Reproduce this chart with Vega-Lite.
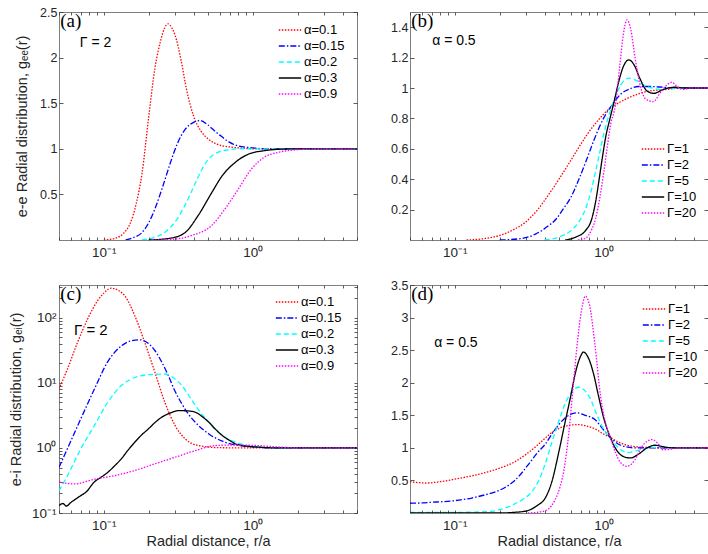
{
  "$schema": "https://vega.github.io/schema/vega-lite/v6.json",
  "background": "white",
  "padding": {"left": 7, "top": 5, "right": 0, "bottom": 0},
  "columns": 2,
  "spacing": {"column": 53, "row": 45},
  "bounds": "flush",
  "datasets": {
    "pa": [
      {"s":"α=0.1","x":0.1,"y":0},{"s":"α=0.1","x":0.12,"y":0.02},{"s":"α=0.1","x":0.135,"y":0.07},{"s":"α=0.1","x":0.15,"y":0.18},{"s":"α=0.1","x":0.165,"y":0.4},{"s":"α=0.1","x":0.18,"y":0.72},{"s":"α=0.1","x":0.2,"y":1.35},{"s":"α=0.1","x":0.22,"y":1.88},{"s":"α=0.1","x":0.24,"y":2.18},{"s":"α=0.1","x":0.255,"y":2.32},{"s":"α=0.1","x":0.27,"y":2.37},{"s":"α=0.1","x":0.285,"y":2.33},{"s":"α=0.1","x":0.3,"y":2.25},{"s":"α=0.1","x":0.33,"y":1.97},{"s":"α=0.1","x":0.36,"y":1.64},{"s":"α=0.1","x":0.4,"y":1.36},{"s":"α=0.1","x":0.45,"y":1.19},{"s":"α=0.1","x":0.5,"y":1.11},{"s":"α=0.1","x":0.6,"y":1.04},{"s":"α=0.1","x":0.7,"y":1.02},{"s":"α=0.1","x":0.8,"y":1.01},{"s":"α=0.1","x":1,"y":1},{"s":"α=0.1","x":2,"y":1},{"s":"α=0.1","x":5,"y":1},
      {"s":"α=0.15","x":0.14,"y":0},{"s":"α=0.15","x":0.16,"y":0.03},{"s":"α=0.15","x":0.18,"y":0.08},{"s":"α=0.15","x":0.2,"y":0.19},{"s":"α=0.15","x":0.22,"y":0.34},{"s":"α=0.15","x":0.25,"y":0.6},{"s":"α=0.15","x":0.28,"y":0.85},{"s":"α=0.15","x":0.31,"y":1.05},{"s":"α=0.15","x":0.35,"y":1.21},{"s":"α=0.15","x":0.4,"y":1.29},{"s":"α=0.15","x":0.44,"y":1.31},{"s":"α=0.15","x":0.5,"y":1.26},{"s":"α=0.15","x":0.55,"y":1.2},{"s":"α=0.15","x":0.6,"y":1.15},{"s":"α=0.15","x":0.7,"y":1.07},{"s":"α=0.15","x":0.8,"y":1.03},{"s":"α=0.15","x":1,"y":1.01},{"s":"α=0.15","x":1.2,"y":1},{"s":"α=0.15","x":5,"y":1},
      {"s":"α=0.2","x":0.18,"y":0},{"s":"α=0.2","x":0.22,"y":0.03},{"s":"α=0.2","x":0.25,"y":0.07},{"s":"α=0.2","x":0.28,"y":0.14},{"s":"α=0.2","x":0.31,"y":0.23},{"s":"α=0.2","x":0.35,"y":0.38},{"s":"α=0.2","x":0.4,"y":0.58},{"s":"α=0.2","x":0.45,"y":0.76},{"s":"α=0.2","x":0.5,"y":0.88},{"s":"α=0.2","x":0.55,"y":0.94},{"s":"α=0.2","x":0.6,"y":0.97},{"s":"α=0.2","x":0.7,"y":0.99},{"s":"α=0.2","x":0.8,"y":1},{"s":"α=0.2","x":5,"y":1},
      {"s":"α=0.3","x":0.2,"y":0},{"s":"α=0.3","x":0.28,"y":0.02},{"s":"α=0.3","x":0.35,"y":0.08},{"s":"α=0.3","x":0.43,"y":0.27},{"s":"α=0.3","x":0.53,"y":0.52},{"s":"α=0.3","x":0.62,"y":0.7},{"s":"α=0.3","x":0.76,"y":0.85},{"s":"α=0.3","x":0.93,"y":0.94},{"s":"α=0.3","x":1.2,"y":0.98},{"s":"α=0.3","x":1.5,"y":0.995},{"s":"α=0.3","x":2,"y":1},{"s":"α=0.3","x":5,"y":1},
      {"s":"α=0.9","x":0.21,"y":0},{"s":"α=0.9","x":0.3,"y":0.01},{"s":"α=0.9","x":0.39,"y":0.05},{"s":"α=0.9","x":0.53,"y":0.16},{"s":"α=0.9","x":0.65,"y":0.34},{"s":"α=0.9","x":0.8,"y":0.56},{"s":"α=0.9","x":0.98,"y":0.78},{"s":"α=0.9","x":1.2,"y":0.91},{"s":"α=0.9","x":1.47,"y":0.96},{"s":"α=0.9","x":2,"y":0.99},{"s":"α=0.9","x":2.85,"y":1},{"s":"α=0.9","x":5,"y":1}
    ],
    "pb": [
      {"s":"Γ=1","x":0.12,"y":0},{"s":"Γ=1","x":0.16,"y":0.01},{"s":"Γ=1","x":0.2,"y":0.03},{"s":"Γ=1","x":0.25,"y":0.07},{"s":"Γ=1","x":0.3,"y":0.12},{"s":"Γ=1","x":0.36,"y":0.2},{"s":"Γ=1","x":0.42,"y":0.29},{"s":"Γ=1","x":0.5,"y":0.4},{"s":"Γ=1","x":0.58,"y":0.5},{"s":"Γ=1","x":0.66,"y":0.59},{"s":"Γ=1","x":0.78,"y":0.7},{"s":"Γ=1","x":0.92,"y":0.79},{"s":"Γ=1","x":1.05,"y":0.85},{"s":"Γ=1","x":1.2,"y":0.89},{"s":"Γ=1","x":1.5,"y":0.94},{"s":"Γ=1","x":2,"y":0.98},{"s":"Γ=1","x":2.6,"y":0.99},{"s":"Γ=1","x":3.4,"y":1},{"s":"Γ=1","x":5,"y":1},
      {"s":"Γ=2","x":0.2,"y":0},{"s":"Γ=2","x":0.28,"y":0.01},{"s":"Γ=2","x":0.35,"y":0.04},{"s":"Γ=2","x":0.42,"y":0.09},{"s":"Γ=2","x":0.48,"y":0.14},{"s":"Γ=2","x":0.53,"y":0.2},{"s":"Γ=2","x":0.6,"y":0.28},{"s":"Γ=2","x":0.68,"y":0.4},{"s":"Γ=2","x":0.76,"y":0.52},{"s":"Γ=2","x":0.83,"y":0.62},{"s":"Γ=2","x":0.93,"y":0.74},{"s":"Γ=2","x":1.02,"y":0.82},{"s":"Γ=2","x":1.16,"y":0.9},{"s":"Γ=2","x":1.3,"y":0.96},{"s":"Γ=2","x":1.5,"y":0.995},{"s":"Γ=2","x":1.7,"y":1.01},{"s":"Γ=2","x":2,"y":1.01},{"s":"Γ=2","x":2.5,"y":1.005},{"s":"Γ=2","x":3,"y":1},{"s":"Γ=2","x":5,"y":1},
      {"s":"Γ=5","x":0.4,"y":0},{"s":"Γ=5","x":0.5,"y":0.02},{"s":"Γ=5","x":0.6,"y":0.06},{"s":"Γ=5","x":0.68,"y":0.12},{"s":"Γ=5","x":0.75,"y":0.2},{"s":"Γ=5","x":0.82,"y":0.32},{"s":"Γ=5","x":0.88,"y":0.45},{"s":"Γ=5","x":0.94,"y":0.58},{"s":"Γ=5","x":1,"y":0.7},{"s":"Γ=5","x":1.08,"y":0.82},{"s":"Γ=5","x":1.17,"y":0.92},{"s":"Γ=5","x":1.3,"y":1.02},{"s":"Γ=5","x":1.47,"y":1.065},{"s":"Γ=5","x":1.65,"y":1.05},{"s":"Γ=5","x":1.85,"y":1.02},{"s":"Γ=5","x":2.1,"y":1},{"s":"Γ=5","x":2.4,"y":0.99},{"s":"Γ=5","x":2.8,"y":1},{"s":"Γ=5","x":5,"y":1},
      {"s":"Γ=10","x":0.55,"y":0},{"s":"Γ=10","x":0.65,"y":0.02},{"s":"Γ=10","x":0.75,"y":0.06},{"s":"Γ=10","x":0.83,"y":0.14},{"s":"Γ=10","x":0.88,"y":0.25},{"s":"Γ=10","x":0.93,"y":0.4},{"s":"Γ=10","x":0.98,"y":0.55},{"s":"Γ=10","x":1.03,"y":0.68},{"s":"Γ=10","x":1.1,"y":0.8},{"s":"Γ=10","x":1.165,"y":0.9},{"s":"Γ=10","x":1.25,"y":1.03},{"s":"Γ=10","x":1.35,"y":1.14},{"s":"Γ=10","x":1.47,"y":1.185},{"s":"Γ=10","x":1.6,"y":1.15},{"s":"Γ=10","x":1.75,"y":1.06},{"s":"Γ=10","x":1.95,"y":0.98},{"s":"Γ=10","x":2.17,"y":0.965},{"s":"Γ=10","x":2.5,"y":0.99},{"s":"Γ=10","x":3,"y":1.005},{"s":"Γ=10","x":3.5,"y":1},{"s":"Γ=10","x":5,"y":1},
      {"s":"Γ=20","x":0.67,"y":0},{"s":"Γ=20","x":0.75,"y":0.01},{"s":"Γ=20","x":0.83,"y":0.07},{"s":"Γ=20","x":0.88,"y":0.14},{"s":"Γ=20","x":0.94,"y":0.28},{"s":"Γ=20","x":1,"y":0.45},{"s":"Γ=20","x":1.05,"y":0.6},{"s":"Γ=20","x":1.1,"y":0.74},{"s":"Γ=20","x":1.2,"y":0.9},{"s":"Γ=20","x":1.28,"y":1.15},{"s":"Γ=20","x":1.35,"y":1.35},{"s":"Γ=20","x":1.43,"y":1.448},{"s":"Γ=20","x":1.52,"y":1.38},{"s":"Γ=20","x":1.62,"y":1.2},{"s":"Γ=20","x":1.75,"y":1.02},{"s":"Γ=20","x":1.9,"y":0.93},{"s":"Γ=20","x":2.14,"y":0.91},{"s":"Γ=20","x":2.4,"y":0.97},{"s":"Γ=20","x":2.65,"y":1.02},{"s":"Γ=20","x":2.86,"y":1.038},{"s":"Γ=20","x":3.1,"y":1.01},{"s":"Γ=20","x":3.4,"y":0.99},{"s":"Γ=20","x":3.8,"y":1},{"s":"Γ=20","x":5,"y":1}
    ],
    "pc": [
      {"s":"α=0.1","x":0.05,"y":8.1},{"s":"α=0.1","x":0.057,"y":16.4},{"s":"α=0.1","x":0.0666,"y":42},{"s":"α=0.1","x":0.0778,"y":96},{"s":"α=0.1","x":0.091,"y":185},{"s":"α=0.1","x":0.1,"y":240},{"s":"α=0.1","x":0.112,"y":286},{"s":"α=0.1","x":0.125,"y":265},{"s":"α=0.1","x":0.138,"y":219},{"s":"α=0.1","x":0.161,"y":109},{"s":"α=0.1","x":0.188,"y":42},{"s":"α=0.1","x":0.22,"y":14.6},{"s":"α=0.1","x":0.257,"y":5},{"s":"α=0.1","x":0.301,"y":2.2},{"s":"α=0.1","x":0.352,"y":1.37},{"s":"α=0.1","x":0.433,"y":1.09},{"s":"α=0.1","x":0.592,"y":1.01},{"s":"α=0.1","x":1,"y":1},{"s":"α=0.1","x":5,"y":1},
      {"s":"α=0.15","x":0.05,"y":0.5},{"s":"α=0.15","x":0.057,"y":0.98},{"s":"α=0.15","x":0.07,"y":2.8},{"s":"α=0.15","x":0.0863,"y":8},{"s":"α=0.15","x":0.106,"y":21},{"s":"α=0.15","x":0.131,"y":37},{"s":"α=0.15","x":0.15,"y":44},{"s":"α=0.15","x":0.174,"y":46},{"s":"α=0.15","x":0.2,"y":40},{"s":"α=0.15","x":0.22,"y":31.5},{"s":"α=0.15","x":0.25,"y":19},{"s":"α=0.15","x":0.271,"y":12.9},{"s":"α=0.15","x":0.3,"y":7.5},{"s":"α=0.15","x":0.334,"y":4.76},{"s":"α=0.15","x":0.37,"y":3.3},{"s":"α=0.15","x":0.411,"y":2.48},{"s":"α=0.15","x":0.507,"y":1.64},{"s":"α=0.15","x":0.624,"y":1.27},{"s":"α=0.15","x":0.768,"y":1.11},{"s":"α=0.15","x":0.995,"y":1.04},{"s":"α=0.15","x":1.4,"y":1},{"s":"α=0.15","x":5,"y":1},
      {"s":"α=0.2","x":0.05,"y":0.22},{"s":"α=0.2","x":0.057,"y":0.375},{"s":"α=0.2","x":0.07,"y":0.965},{"s":"α=0.2","x":0.0863,"y":2.2},{"s":"α=0.2","x":0.106,"y":5},{"s":"α=0.2","x":0.131,"y":9.1},{"s":"α=0.2","x":0.16,"y":12},{"s":"α=0.2","x":0.2,"y":13.4},{"s":"α=0.2","x":0.257,"y":13.7},{"s":"α=0.2","x":0.3,"y":11.5},{"s":"α=0.2","x":0.334,"y":9.1},{"s":"α=0.2","x":0.37,"y":6.5},{"s":"α=0.2","x":0.411,"y":4.5},{"s":"α=0.2","x":0.507,"y":2.48},{"s":"α=0.2","x":0.624,"y":1.55},{"s":"α=0.2","x":0.768,"y":1.22},{"s":"α=0.2","x":0.995,"y":1.06},{"s":"α=0.2","x":1.3,"y":1.01},{"s":"α=0.2","x":2,"y":1},{"s":"α=0.2","x":5,"y":1},
      {"s":"α=0.3","x":0.05,"y":0.13},{"s":"α=0.3","x":0.053,"y":0.14},{"s":"α=0.3","x":0.056,"y":0.128},{"s":"α=0.3","x":0.06,"y":0.145},{"s":"α=0.3","x":0.065,"y":0.165},{"s":"α=0.3","x":0.07,"y":0.185},{"s":"α=0.3","x":0.076,"y":0.21},{"s":"α=0.3","x":0.0863,"y":0.3},{"s":"α=0.3","x":0.095,"y":0.35},{"s":"α=0.3","x":0.106,"y":0.42},{"s":"α=0.3","x":0.118,"y":0.53},{"s":"α=0.3","x":0.131,"y":0.68},{"s":"α=0.3","x":0.145,"y":0.92},{"s":"α=0.3","x":0.161,"y":1.22},{"s":"α=0.3","x":0.18,"y":1.6},{"s":"α=0.3","x":0.199,"y":1.96},{"s":"α=0.3","x":0.22,"y":2.45},{"s":"α=0.3","x":0.244,"y":2.96},{"s":"α=0.3","x":0.28,"y":3.45},{"s":"α=0.3","x":0.317,"y":3.75},{"s":"α=0.3","x":0.36,"y":3.72},{"s":"α=0.3","x":0.411,"y":3.54},{"s":"α=0.3","x":0.46,"y":3},{"s":"α=0.3","x":0.507,"y":2.48},{"s":"α=0.3","x":0.56,"y":1.95},{"s":"α=0.3","x":0.624,"y":1.55},{"s":"α=0.3","x":0.7,"y":1.3},{"s":"α=0.3","x":0.768,"y":1.15},{"s":"α=0.3","x":0.9,"y":1.07},{"s":"α=0.3","x":1.1,"y":1.03},{"s":"α=0.3","x":1.5,"y":1},{"s":"α=0.3","x":5,"y":1},
      {"s":"α=0.9","x":0.05,"y":0.3},{"s":"α=0.9","x":0.0632,"y":0.28},{"s":"α=0.9","x":0.0863,"y":0.33},{"s":"α=0.9","x":0.118,"y":0.375},{"s":"α=0.9","x":0.161,"y":0.45},{"s":"α=0.9","x":0.22,"y":0.57},{"s":"α=0.9","x":0.301,"y":0.72},{"s":"α=0.9","x":0.411,"y":0.91},{"s":"α=0.9","x":0.562,"y":1.09},{"s":"α=0.9","x":0.768,"y":1.11},{"s":"α=0.9","x":1.05,"y":1.09},{"s":"α=0.9","x":1.43,"y":1.04},{"s":"α=0.9","x":2.17,"y":1},{"s":"α=0.9","x":5,"y":1}
    ],
    "pd": [
      {"s":"Γ=1","x":0.05,"y":0.48},{"s":"Γ=1","x":0.058,"y":0.465},{"s":"Γ=1","x":0.065,"y":0.46},{"s":"Γ=1","x":0.076,"y":0.475},{"s":"Γ=1","x":0.09,"y":0.5},{"s":"Γ=1","x":0.1,"y":0.52},{"s":"Γ=1","x":0.13,"y":0.57},{"s":"Γ=1","x":0.166,"y":0.63},{"s":"Γ=1","x":0.2,"y":0.69},{"s":"Γ=1","x":0.25,"y":0.78},{"s":"Γ=1","x":0.3,"y":0.9},{"s":"Γ=1","x":0.35,"y":1.02},{"s":"Γ=1","x":0.4,"y":1.14},{"s":"Γ=1","x":0.45,"y":1.24},{"s":"Γ=1","x":0.5,"y":1.3},{"s":"Γ=1","x":0.6,"y":1.35},{"s":"Γ=1","x":0.676,"y":1.357},{"s":"Γ=1","x":0.75,"y":1.34},{"s":"Γ=1","x":0.875,"y":1.29},{"s":"Γ=1","x":1,"y":1.21},{"s":"Γ=1","x":1.105,"y":1.16},{"s":"Γ=1","x":1.25,"y":1.09},{"s":"Γ=1","x":1.39,"y":1.05},{"s":"Γ=1","x":1.8,"y":1.01},{"s":"Γ=1","x":2.5,"y":1},{"s":"Γ=1","x":5,"y":1},
      {"s":"Γ=2","x":0.05,"y":0.15},{"s":"Γ=2","x":0.06,"y":0.155},{"s":"Γ=2","x":0.07,"y":0.165},{"s":"Γ=2","x":0.085,"y":0.175},{"s":"Γ=2","x":0.1,"y":0.19},{"s":"Γ=2","x":0.13,"y":0.23},{"s":"Γ=2","x":0.16,"y":0.28},{"s":"Γ=2","x":0.185,"y":0.32},{"s":"Γ=2","x":0.22,"y":0.4},{"s":"Γ=2","x":0.25,"y":0.49},{"s":"Γ=2","x":0.28,"y":0.61},{"s":"Γ=2","x":0.32,"y":0.78},{"s":"Γ=2","x":0.36,"y":0.93},{"s":"Γ=2","x":0.402,"y":1.05},{"s":"Γ=2","x":0.46,"y":1.25},{"s":"Γ=2","x":0.55,"y":1.46},{"s":"Γ=2","x":0.658,"y":1.537},{"s":"Γ=2","x":0.75,"y":1.5},{"s":"Γ=2","x":0.875,"y":1.43},{"s":"Γ=2","x":1,"y":1.27},{"s":"Γ=2","x":1.105,"y":1.16},{"s":"Γ=2","x":1.3,"y":1.04},{"s":"Γ=2","x":1.6,"y":1},{"s":"Γ=2","x":2,"y":1},{"s":"Γ=2","x":5,"y":1},
      {"s":"Γ=5","x":0.05,"y":0.01},{"s":"Γ=5","x":0.1,"y":0.01},{"s":"Γ=5","x":0.166,"y":0.02},{"s":"Γ=5","x":0.2,"y":0.05},{"s":"Γ=5","x":0.252,"y":0.14},{"s":"Γ=5","x":0.29,"y":0.22},{"s":"Γ=5","x":0.327,"y":0.32},{"s":"Γ=5","x":0.36,"y":0.47},{"s":"Γ=5","x":0.382,"y":0.6},{"s":"Γ=5","x":0.402,"y":0.74},{"s":"Γ=5","x":0.45,"y":1.1},{"s":"Γ=5","x":0.5,"y":1.42},{"s":"Γ=5","x":0.56,"y":1.72},{"s":"Γ=5","x":0.62,"y":1.88},{"s":"Γ=5","x":0.676,"y":1.93},{"s":"Γ=5","x":0.75,"y":1.87},{"s":"Γ=5","x":0.8,"y":1.78},{"s":"Γ=5","x":0.9,"y":1.5},{"s":"Γ=5","x":1,"y":1.28},{"s":"Γ=5","x":1.105,"y":1.15},{"s":"Γ=5","x":1.25,"y":1},{"s":"Γ=5","x":1.45,"y":0.93},{"s":"Γ=5","x":1.7,"y":0.96},{"s":"Γ=5","x":2,"y":1},{"s":"Γ=5","x":2.4,"y":1.01},{"s":"Γ=5","x":3,"y":1},{"s":"Γ=5","x":5,"y":1},
      {"s":"Γ=10","x":0.05,"y":0},{"s":"Γ=10","x":0.2,"y":0},{"s":"Γ=10","x":0.25,"y":0.01},{"s":"Γ=10","x":0.3,"y":0.03},{"s":"Γ=10","x":0.327,"y":0.06},{"s":"Γ=10","x":0.36,"y":0.12},{"s":"Γ=10","x":0.402,"y":0.22},{"s":"Γ=10","x":0.447,"y":0.475},{"s":"Γ=10","x":0.5,"y":0.95},{"s":"Γ=10","x":0.55,"y":1.4},{"s":"Γ=10","x":0.6,"y":1.8},{"s":"Γ=10","x":0.641,"y":2.13},{"s":"Γ=10","x":0.69,"y":2.38},{"s":"Γ=10","x":0.73,"y":2.47},{"s":"Γ=10","x":0.78,"y":2.4},{"s":"Γ=10","x":0.85,"y":2.15},{"s":"Γ=10","x":0.92,"y":1.8},{"s":"Γ=10","x":1,"y":1.45},{"s":"Γ=10","x":1.105,"y":1.16},{"s":"Γ=10","x":1.25,"y":0.93},{"s":"Γ=10","x":1.4,"y":0.855},{"s":"Γ=10","x":1.51,"y":0.845},{"s":"Γ=10","x":1.7,"y":0.9},{"s":"Γ=10","x":1.95,"y":1},{"s":"Γ=10","x":2.2,"y":1.04},{"s":"Γ=10","x":2.6,"y":1.01},{"s":"Γ=10","x":3,"y":1},{"s":"Γ=10","x":5,"y":1},
      {"s":"Γ=20","x":0.309,"y":0},{"s":"Γ=20","x":0.38,"y":0.02},{"s":"Γ=20","x":0.424,"y":0.06},{"s":"Γ=20","x":0.47,"y":0.2},{"s":"Γ=20","x":0.508,"y":0.4},{"s":"Γ=20","x":0.537,"y":0.63},{"s":"Γ=20","x":0.58,"y":1.2},{"s":"Γ=20","x":0.62,"y":1.9},{"s":"Γ=20","x":0.67,"y":2.7},{"s":"Γ=20","x":0.72,"y":3.2},{"s":"Γ=20","x":0.75,"y":3.33},{"s":"Γ=20","x":0.8,"y":3.2},{"s":"Γ=20","x":0.87,"y":2.6},{"s":"Γ=20","x":0.95,"y":1.8},{"s":"Γ=20","x":1.05,"y":1.3},{"s":"Γ=20","x":1.105,"y":1.16},{"s":"Γ=20","x":1.2,"y":0.92},{"s":"Γ=20","x":1.3,"y":0.77},{"s":"Γ=20","x":1.43,"y":0.717},{"s":"Γ=20","x":1.6,"y":0.8},{"s":"Γ=20","x":1.8,"y":1.02},{"s":"Γ=20","x":2.11,"y":1.127},{"s":"Γ=20","x":2.3,"y":1.07},{"s":"Γ=20","x":2.5,"y":0.97},{"s":"Γ=20","x":2.8,"y":0.98},{"s":"Γ=20","x":3.2,"y":1},{"s":"Γ=20","x":5,"y":1}
    ]
  },
  "concat": [
    {
      "width": 298, "height": 228,
      "layer": [
        {
          "data": {"name": "pa"},
          "mark": {"type": "line", "strokeWidth": 1.3, "interpolate": "monotone", "clip": true},
          "encoding": {
            "x": {"field": "x", "type": "quantitative", "scale": {"type": "log", "domain": [0.05, 5], "nice": false},
              "axis": {"orient": "bottom", "title": null, "values": [0.05,0.06,0.07,0.08,0.09,0.1,0.2,0.3,0.4,0.5,0.6,0.7,0.8,0.9,1,2,3,4,5], "labelExpr": "datum.value == 0.1 ? '10⁻¹' : datum.value == 1 ? '10⁰' : ''", "labelFontSize": 13.5, "tickSize": -3, "labelPadding": 8}},
            "y": {"field": "y", "type": "quantitative", "scale": {"domain": [0, 2.5], "nice": false, "zero": false},
              "axis": {"orient": "left", "title": "e-e Radial distribution, gₑₑ(r)", "values": [0.5,1,1.5,2,2.5], "format": "~g", "tickSize": -4, "labelPadding": 6, "titlePadding": 10}},
            "color": {"field": "s", "type": "nominal", "scale": {"domain": ["α=0.1","α=0.15","α=0.2","α=0.3","α=0.9"], "range": ["#ff0000","#0000ff","#00ffff","#000000","#ff00ff"]},
              "legend": {"orient": "none", "legendX": 219, "legendY": 11, "title": null}},
            "strokeDash": {"field": "s", "type": "nominal", "scale": {"domain": ["α=0.1","α=0.15","α=0.2","α=0.3","α=0.9"], "range": [[1.5,1.5],[6,2,1.5,2],[5,3],[1,0],[1.5,1.5]]},
              "legend": {"orient": "none", "legendX": 219, "legendY": 11, "title": null}}
          }
        },
        {
          "data": {"values": [{}]},
          "mark": {"type": "text", "text": "(a)", "font": "Liberation Serif", "fontSize": 19, "align": "left", "baseline": "top"},
          "encoding": {
            "x": {"datum": 0.051, "type": "quantitative", "axis": {"orient": "top", "title": null, "labels": false, "values": [0.05,0.06,0.07,0.08,0.09,0.1,0.2,0.3,0.4,0.5,0.6,0.7,0.8,0.9,1,2,3,4,5], "tickSize": -3}},
            "y": {"datum": 2.5, "type": "quantitative", "axis": {"orient": "right", "title": null, "labels": false, "values": [0.5,1,1.5,2,2.5], "tickSize": -4}}
          }
        },
        {
          "data": {"values": [{}]},
          "mark": {"type": "text", "text": "Γ = 2", "fontSize": 14, "align": "left", "baseline": "middle"},
          "encoding": {
            "x": {"datum": 0.069, "type": "quantitative", "axis": null},
            "y": {"datum": 2.16, "type": "quantitative", "axis": null}
          }
        }
      ],
      "resolve": {"axis": {"x": "independent", "y": "independent"}}
    },
    {
      "width": 298, "height": 228,
      "layer": [
        {
          "data": {"name": "pb"},
          "mark": {"type": "line", "strokeWidth": 1.3, "interpolate": "monotone", "clip": true},
          "encoding": {
            "x": {"field": "x", "type": "quantitative", "scale": {"type": "log", "domain": [0.05, 5], "nice": false},
              "axis": {"orient": "bottom", "title": null, "values": [0.05,0.06,0.07,0.08,0.09,0.1,0.2,0.3,0.4,0.5,0.6,0.7,0.8,0.9,1,2,3,4,5], "labelExpr": "datum.value == 0.1 ? '10⁻¹' : datum.value == 1 ? '10⁰' : ''", "labelFontSize": 13.5, "tickSize": -3, "labelPadding": 8}},
            "y": {"field": "y", "type": "quantitative", "scale": {"domain": [0, 1.5], "nice": false, "zero": false},
              "axis": {"orient": "left", "title": null, "values": [0.2,0.4,0.6,0.8,1,1.2,1.4], "format": "~g", "tickSize": -4, "labelPadding": 6}},
            "color": {"field": "s", "type": "nominal", "scale": {"domain": ["Γ=1","Γ=2","Γ=5","Γ=10","Γ=20"], "range": ["#ff0000","#0000ff","#00ffff","#000000","#ff00ff"]},
              "legend": {"orient": "none", "legendX": 231, "legendY": 130, "title": null}},
            "strokeDash": {"field": "s", "type": "nominal", "scale": {"domain": ["Γ=1","Γ=2","Γ=5","Γ=10","Γ=20"], "range": [[1.5,1.5],[6,2,1.5,2],[5,3],[1,0],[1.5,1.5]]},
              "legend": {"orient": "none", "legendX": 231, "legendY": 130, "title": null}}
          }
        },
        {
          "data": {"values": [{}]},
          "mark": {"type": "text", "text": "(b)", "font": "Liberation Serif", "fontSize": 19, "align": "left", "baseline": "top"},
          "encoding": {
            "x": {"datum": 0.051, "type": "quantitative", "axis": {"orient": "top", "title": null, "labels": false, "values": [0.05,0.06,0.07,0.08,0.09,0.1,0.2,0.3,0.4,0.5,0.6,0.7,0.8,0.9,1,2,3,4,5], "tickSize": -3}},
            "y": {"datum": 1.5, "type": "quantitative", "axis": {"orient": "right", "title": null, "labels": false, "values": [0.2,0.4,0.6,0.8,1,1.2,1.4], "tickSize": -4}}
          }
        },
        {
          "data": {"values": [{}]},
          "mark": {"type": "text", "text": "α = 0.5", "fontSize": 14, "align": "left", "baseline": "middle"},
          "encoding": {
            "x": {"datum": 0.0704, "type": "quantitative", "axis": null},
            "y": {"datum": 1.31, "type": "quantitative", "axis": null}
          }
        }
      ],
      "resolve": {"axis": {"x": "independent", "y": "independent"}}
    },
    {
      "width": 298, "height": 228,
      "layer": [
        {
          "data": {"name": "pc"},
          "mark": {"type": "line", "strokeWidth": 1.3, "interpolate": "monotone", "clip": true},
          "encoding": {
            "x": {"field": "x", "type": "quantitative", "scale": {"type": "log", "domain": [0.05, 5], "nice": false},
              "axis": {"orient": "bottom", "title": "Radial distance, r/a", "values": [0.05,0.06,0.07,0.08,0.09,0.1,0.2,0.3,0.4,0.5,0.6,0.7,0.8,0.9,1,2,3,4,5], "labelExpr": "datum.value == 0.1 ? '10⁻¹' : datum.value == 1 ? '10⁰' : ''", "labelFontSize": 13.5, "tickSize": -3, "labelPadding": 8, "titlePadding": 3}},
            "y": {"field": "y", "type": "quantitative", "scale": {"type": "log", "domain": [0.1, 320], "nice": false},
              "axis": {"orient": "left", "title": "e-i Radial distribution, gₑᵢ(r)", "values": [0.1,0.2,0.3,0.4,0.5,0.6,0.7,0.8,0.9,1,2,3,4,5,6,7,8,9,10,20,30,40,50,60,70,80,90,100,200,300], "labelExpr": "datum.value == 0.1 ? '10⁻¹' : datum.value == 1 ? '10⁰' : datum.value == 10 ? '10¹' : datum.value == 100 ? '10²' : ''", "labelFontSize": 13.5, "tickSize": -3, "labelPadding": 6, "titlePadding": 8}},
            "color": {"field": "s", "type": "nominal", "scale": {"domain": ["α=0.1","α=0.15","α=0.2","α=0.3","α=0.9"], "range": ["#ff0000","#0000ff","#00ffff","#000000","#ff00ff"]},
              "legend": {"orient": "none", "legendX": 216, "legendY": 10, "title": null}},
            "strokeDash": {"field": "s", "type": "nominal", "scale": {"domain": ["α=0.1","α=0.15","α=0.2","α=0.3","α=0.9"], "range": [[1.5,1.5],[6,2,1.5,2],[5,3],[1,0],[1.5,1.5]]},
              "legend": {"orient": "none", "legendX": 216, "legendY": 10, "title": null}}
          }
        },
        {
          "data": {"values": [{}]},
          "mark": {"type": "text", "text": "(c)", "font": "Liberation Serif", "fontSize": 19, "align": "left", "baseline": "top"},
          "encoding": {
            "x": {"datum": 0.051, "type": "quantitative", "axis": {"orient": "top", "title": null, "labels": false, "values": [0.05,0.06,0.07,0.08,0.09,0.1,0.2,0.3,0.4,0.5,0.6,0.7,0.8,0.9,1,2,3,4,5], "tickSize": -3}},
            "y": {"datum": 320, "type": "quantitative", "axis": {"orient": "right", "title": null, "labels": false, "values": [0.1,0.2,0.3,0.4,0.5,0.6,0.7,0.8,0.9,1,2,3,4,5,6,7,8,9,10,20,30,40,50,60,70,80,90,100,200,300], "tickSize": -3}}
          }
        },
        {
          "data": {"values": [{}]},
          "mark": {"type": "text", "text": "Γ = 2", "fontSize": 15, "align": "left", "baseline": "middle"},
          "encoding": {
            "x": {"datum": 0.063, "type": "quantitative", "axis": null},
            "y": {"datum": 64, "type": "quantitative", "axis": null}
          }
        }
      ],
      "resolve": {"axis": {"x": "independent", "y": "independent"}}
    },
    {
      "width": 298, "height": 228,
      "layer": [
        {
          "data": {"name": "pd"},
          "mark": {"type": "line", "strokeWidth": 1.3, "interpolate": "monotone", "clip": true},
          "encoding": {
            "x": {"field": "x", "type": "quantitative", "scale": {"type": "log", "domain": [0.05, 5], "nice": false},
              "axis": {"orient": "bottom", "title": "Radial distance, r/a", "values": [0.05,0.06,0.07,0.08,0.09,0.1,0.2,0.3,0.4,0.5,0.6,0.7,0.8,0.9,1,2,3,4,5], "labelExpr": "datum.value == 0.1 ? '10⁻¹' : datum.value == 1 ? '10⁰' : ''", "labelFontSize": 13.5, "tickSize": -3, "labelPadding": 8, "titlePadding": 3}},
            "y": {"field": "y", "type": "quantitative", "scale": {"domain": [0, 3.5], "nice": false, "zero": false},
              "axis": {"orient": "left", "title": null, "values": [0.5,1,1.5,2,2.5,3,3.5], "format": "~g", "tickSize": -4, "labelPadding": 6}},
            "color": {"field": "s", "type": "nominal", "scale": {"domain": ["Γ=1","Γ=2","Γ=5","Γ=10","Γ=20"], "range": ["#ff0000","#0000ff","#00ffff","#000000","#ff00ff"]},
              "legend": {"orient": "none", "legendX": 232, "legendY": 17, "title": null}},
            "strokeDash": {"field": "s", "type": "nominal", "scale": {"domain": ["Γ=1","Γ=2","Γ=5","Γ=10","Γ=20"], "range": [[1.5,1.5],[6,2,1.5,2],[5,3],[1,0],[1.5,1.5]]},
              "legend": {"orient": "none", "legendX": 232, "legendY": 17, "title": null}}
          }
        },
        {
          "data": {"values": [{}]},
          "mark": {"type": "text", "text": "(d)", "font": "Liberation Serif", "fontSize": 19, "align": "left", "baseline": "top"},
          "encoding": {
            "x": {"datum": 0.051, "type": "quantitative", "axis": {"orient": "top", "title": null, "labels": false, "values": [0.05,0.06,0.07,0.08,0.09,0.1,0.2,0.3,0.4,0.5,0.6,0.7,0.8,0.9,1,2,3,4,5], "tickSize": -3}},
            "y": {"datum": 3.5, "type": "quantitative", "axis": {"orient": "right", "title": null, "labels": false, "values": [0.5,1,1.5,2,2.5,3,3.5], "tickSize": -4}}
          }
        },
        {
          "data": {"values": [{}]},
          "mark": {"type": "text", "text": "α = 0.5", "fontSize": 14, "align": "left", "baseline": "middle"},
          "encoding": {
            "x": {"datum": 0.0726, "type": "quantitative", "axis": null},
            "y": {"datum": 2.61, "type": "quantitative", "axis": null}
          }
        }
      ],
      "resolve": {"axis": {"x": "independent", "y": "independent"}}
    }
  ],
  "resolve": {
    "scale": {"x": "independent", "y": "independent", "color": "independent", "strokeDash": "independent"},
    "legend": {"color": "independent", "strokeDash": "independent"}
  },
  "config": {
    "font": "Liberation Sans",
    "view": {"stroke": "#808080", "strokeWidth": 1},
    "text": {"font": "Liberation Sans", "color": "#000", "fontWeight": "normal"},
    "axis": {"grid": false, "domain": false, "tickColor": "#333", "tickWidth": 0.8, "labelFont": "Liberation Sans", "labelFontSize": 12.5, "labelColor": "#262626", "titleFont": "Liberation Sans", "titleFontSize": 14.5, "titleFontWeight": "normal", "titleColor": "#262626", "labelOverlap": false, "labelFlush": false},
    "legend": {"symbolType": "stroke", "symbolSize": 500, "symbolStrokeWidth": 1.5, "labelFont": "Liberation Sans", "labelFontSize": 13, "labelColor": "#000", "labelOffset": 2, "clipHeight": 14, "rowPadding": 2, "padding": 0}
  }
}
